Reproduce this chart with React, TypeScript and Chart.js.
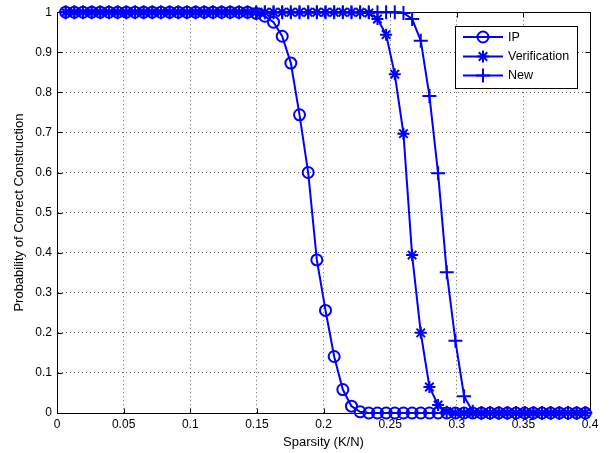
import React, { useEffect, useRef } from 'react';
import { Chart, registerables } from 'chart.js';

Chart.register(...registerables);

const sparsity = [
  0.0065, 0.013, 0.0195, 0.026, 0.0325, 0.039, 0.0455, 0.052, 0.0585, 0.065,
  0.0715, 0.078, 0.0845, 0.091, 0.0975, 0.104, 0.1105, 0.117, 0.1235, 0.13,
  0.1365, 0.143, 0.1495, 0.156, 0.1625, 0.169, 0.1755, 0.182, 0.1885, 0.195,
  0.2015, 0.208, 0.2145, 0.221, 0.2275, 0.234, 0.2405, 0.247, 0.2535, 0.26,
  0.2665, 0.273, 0.2795, 0.286, 0.2925, 0.299, 0.3055, 0.312, 0.3185, 0.325,
  0.3315, 0.338, 0.3445, 0.351, 0.3575, 0.364, 0.3705, 0.377, 0.3835, 0.39,
  0.3965,
];

const ipValues = [
  1, 1, 1, 1, 1, 1, 1, 1, 1, 1,
  1, 1, 1, 1, 1, 1, 1, 1, 1, 1,
  1, 1, 0.997, 0.99, 0.975, 0.94, 0.873, 0.744, 0.6, 0.382,
  0.256, 0.141, 0.0585, 0.017, 0.003, 0, 0, 0, 0, 0,
  0, 0, 0, 0, 0, 0, 0, 0, 0, 0,
  0, 0, 0, 0, 0, 0, 0, 0, 0, 0,
  0,
];

const verificationValues = [
  1, 1, 1, 1, 1, 1, 1, 1, 1, 1,
  1, 1, 1, 1, 1, 1, 1, 1, 1, 1,
  1, 1, 1, 1, 1, 1, 1, 1, 1, 1,
  1, 1, 1, 1, 1, 0.998, 0.983, 0.944, 0.845, 0.697,
  0.394, 0.2, 0.065, 0.02, 0.003, 0, 0, 0, 0, 0,
  0, 0, 0, 0, 0, 0, 0, 0, 0, 0,
  0,
];

const newValues = [
  1, 1, 1, 1, 1, 1, 1, 1, 1, 1,
  1, 1, 1, 1, 1, 1, 1, 1, 1, 1,
  1, 1, 1, 1, 1, 1, 1, 1, 1, 1,
  1, 1, 1, 1, 1, 1, 1, 1, 1, 0.998,
  0.983, 0.929, 0.791, 0.598, 0.351, 0.18, 0.042, 0.003, 0, 0,
  0, 0, 0, 0, 0, 0, 0, 0, 0, 0,
  0,
];

const seriesLabels = ['IP', 'Verification', 'New'];
const seriesMarkers = ['circle', 'star', 'cross'];

const xTickValues = [0, 0.05, 0.1, 0.15, 0.2, 0.25, 0.3, 0.35, 0.4];
const xTickLabels = ['0', '0.05', '0.1', '0.15', '0.2', '0.25', '0.3', '0.35', '0.4'];
const yTickValues = [0, 0.1, 0.2, 0.3, 0.4, 0.5, 0.6, 0.7, 0.8, 0.9, 1];
const yTickLabels = ['0', '0.1', '0.2', '0.3', '0.4', '0.5', '0.6', '0.7', '0.8', '0.9', '1'];

const xTitle = 'Sparsity (K/N)';
const yTitle = 'Probability of Correct Construction';

const BLUE = '#0000ff';
const FONT = "'Liberation Sans', Arial, Helvetica, sans-serif";

function drawMarker(ctx: CanvasRenderingContext2D, style: string, x: number, y: number, r: number) {
  ctx.beginPath();
  if (style === 'circle') {
    ctx.arc(x, y, r, 0, Math.PI * 2);
  } else if (style === 'star') {
    for (let k = 0; k < 4; k++) {
      const a = (k * Math.PI) / 4;
      ctx.moveTo(x - Math.cos(a) * r, y - Math.sin(a) * r);
      ctx.lineTo(x + Math.cos(a) * r, y + Math.sin(a) * r);
    }
  } else {
    ctx.moveTo(x - r, y);
    ctx.lineTo(x + r, y);
    ctx.moveTo(x, y - r);
    ctx.lineTo(x, y + r);
  }
  ctx.stroke();
}

const boxPlugin = {
  id: 'matlabBox',
  beforeDatasetsDraw(chart: any) {
    const { ctx, chartArea, scales } = chart;
    const { left, right, top, bottom } = chartArea;
    const L = Math.round(left) + 0.5;
    const R = Math.round(right) + 0.5;
    const T = Math.round(top) + 0.5;
    const B = Math.round(bottom) + 0.5;
    ctx.save();
    ctx.strokeStyle = '#000';
    ctx.lineWidth = 1;
    ctx.setLineDash([]);
    ctx.beginPath();
    ctx.moveTo(L, T);
    ctx.lineTo(R, T);
    ctx.lineTo(R, B);
    ctx.lineTo(L, B);
    ctx.lineTo(L, T);
    const tl = 5;
    xTickValues.forEach((v) => {
      const px = Math.round(scales.x.getPixelForValue(v)) + 0.5;
      ctx.moveTo(px, B);
      ctx.lineTo(px, B - tl);
      ctx.moveTo(px, T);
      ctx.lineTo(px, T + tl);
    });
    yTickValues.forEach((v) => {
      const py = Math.round(scales.y.getPixelForValue(v)) + 0.5;
      ctx.moveTo(L, py);
      ctx.lineTo(L + tl, py);
      ctx.moveTo(R, py);
      ctx.lineTo(R - tl, py);
    });
    ctx.stroke();
    ctx.restore();
  },
};

const legendPlugin = {
  id: 'matlabLegend',
  afterDraw(chart: any) {
    const { ctx } = chart;
    const bx = 455.5;
    const by = 26.5;
    const bw = 122;
    const bh = 62;
    ctx.save();
    ctx.fillStyle = '#fff';
    ctx.fillRect(bx, by, bw, bh);
    ctx.strokeStyle = '#000';
    ctx.lineWidth = 1;
    ctx.strokeRect(bx, by, bw, bh);
    const rows = [37, 56.5, 75.5];
    ctx.font = `12.5px ${FONT}`;
    ctx.textBaseline = 'middle';
    ctx.textAlign = 'left';
    seriesLabels.forEach((label, i) => {
      const y = rows[i];
      ctx.strokeStyle = BLUE;
      ctx.lineWidth = 2;
      ctx.beginPath();
      ctx.moveTo(463, y);
      ctx.lineTo(503, y);
      ctx.stroke();
      const r = seriesMarkers[i] === 'circle' ? 5.5 : seriesMarkers[i] === 'star' ? 6 : 7;
      drawMarker(ctx, seriesMarkers[i], 483, y, r);
      ctx.fillStyle = '#000';
      ctx.fillText(label, 508, y + 0.5);
    });
    ctx.restore();
  },
};

export default function App() {
  const canvasRef = useRef<HTMLCanvasElement | null>(null);

  useEffect(() => {
    if (!canvasRef.current) return;
    Chart.defaults.font.family = FONT;
    Chart.defaults.color = '#000';

    const toPoints = (vals: number[]) => sparsity.map((x, i) => ({ x, y: vals[i] }));
    const allSeries = [ipValues, verificationValues, newValues];
    const radii = [5.5, 6, 7];

    const chart = new Chart(canvasRef.current, {
      type: 'line',
      data: {
        datasets: allSeries.map((vals, i) => ({
          label: seriesLabels[i],
          data: toPoints(vals),
          borderColor: BLUE,
          backgroundColor: 'rgba(0,0,0,0)',
          borderWidth: 2,
          pointStyle: seriesMarkers[i] as any,
          pointRadius: radii[i],
          pointBorderWidth: 2,
          pointBorderColor: BLUE,
          pointBackgroundColor: 'rgba(0,0,0,0)',
          tension: 0,
          fill: false,
          clip: false as any,
          order: 3 - i,
        })),
      },
      options: {
        responsive: false,
        animation: false,
        events: [],
        layout: { padding: { top: 8, right: 25, left: 0, bottom: 0 } },
        plugins: {
          legend: { display: false },
          tooltip: { enabled: false },
        },
        scales: {
          x: {
            type: 'linear',
            min: 0,
            max: 0.4,
            afterBuildTicks: (scale: any) => {
              scale.ticks = xTickValues.map((v) => ({ value: v }));
            },
            afterFit: (scale: any) => {
              scale.height = 40;
            },
            ticks: {
              autoSkip: false,
              maxRotation: 0,
              padding: 4,
              font: { size: 12 },
              color: '#000',
              callback: (_v: any, idx: number) => xTickLabels[idx],
            },
            grid: { color: 'rgba(0,0,0,0.6)', lineWidth: 1, drawTicks: false },
            border: { display: true, color: '#000', width: 1, dash: [1, 3] },
            title: {
              display: true,
              text: xTitle,
              font: { size: 13 },
              color: '#000',
              padding: { top: 0, bottom: 3 },
            },
          },
          y: {
            type: 'linear',
            min: 0,
            max: 1,
            afterBuildTicks: (scale: any) => {
              scale.ticks = yTickValues.map((v) => ({ value: v }));
            },
            afterFit: (scale: any) => {
              scale.width = 57;
            },
            ticks: {
              autoSkip: false,
              padding: 5,
              font: { size: 12 },
              color: '#000',
              callback: (_v: any, idx: number) => yTickLabels[idx],
            },
            grid: { color: 'rgba(0,0,0,0.6)', lineWidth: 1, drawTicks: false },
            border: { display: true, color: '#000', width: 1, dash: [1, 3] },
            title: {
              display: true,
              text: yTitle,
              font: { size: 13 },
              color: '#000',
              padding: { top: 12, bottom: 0 },
            },
          },
        },
      },
      plugins: [boxPlugin, legendPlugin],
    });

    return () => {
      chart.destroy();
    };
  }, []);

  return (
    <div style={{ position: 'fixed', left: 0, top: 0, width: 615, height: 453, background: '#fff' }}>
      <canvas ref={canvasRef} width={615} height={453} style={{ display: 'block' }} />
    </div>
  );
}
